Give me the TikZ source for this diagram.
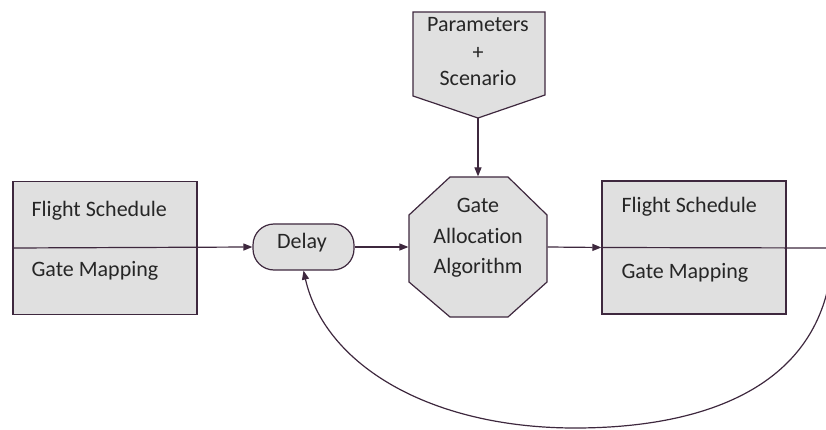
\documentclass[tikz,border=0pt]{standalone}
\usepackage{fontspec}
\setmainfont[Ligatures={NoCommon}]{Carlito}
\usetikzlibrary{arrows.meta}
\definecolor{ln}{RGB}{62,40,62}
\definecolor{fl}{RGB}{224,224,224}
\definecolor{tx}{RGB}{38,38,38}
\begin{document}
\begin{tikzpicture}[x=1pt,y=-1pt,line width=1.2pt,
  box/.style={draw=ln, fill=fl, minimum width=184pt, minimum height=133pt, inner sep=0pt},
  lbl/.style={font=\fontsize{22}{27}\selectfont, text=tx, inner sep=0pt},
  arr/.style={draw=ln, -{Triangle[length=9pt,width=7pt]}},
  conn/.style={draw=ln},
  anch/.style={inner sep=0pt}]
\useasboundingbox (0,0) rectangle (826,430);
\clip (0,0) rectangle (826,430);

% left data box
\node[box] (lb) at (105,248) {};
\node[lbl, anchor=base west] (lb1) at (31,217) {Flight Schedule};
\node[lbl, anchor=base west] (lb2) at (31,276) {Gate Mapping};

% delay
\node[draw=ln, fill=fl, rounded corners=21pt, minimum width=101pt, minimum height=46pt, inner sep=0pt] (dl) at (303.5,247) {};
\node[lbl, anchor=base] (dlt) at (302,248) {Delay};

% parameters shape
\path[conn, fill=fl] (413,12) -- (545,12) -- (545,95) -- (478,118) -- (413,96) -- cycle;
\coordinate (pt) at (478,118);
\node[lbl, anchor=base] (p1) at (478,32) {Parameters};
\node[lbl, anchor=base] (p2) at (478,60) {+};
\node[lbl, anchor=base] (p3) at (478,86) {Scenario};

% octagon
\path[conn, fill=fl] (450,177) -- (508,177) -- (547,215) -- (547,282) -- (508,317) -- (450,317) -- (409,282) -- (409,215) -- cycle;
\node[anch, minimum width=138pt, minimum height=140pt] (oc) at (478,247) {};
\node[lbl, anchor=base] (o1) at (478,212) {Gate};
\node[lbl, anchor=base] (o2) at (478,243) {Allocation};
\node[lbl, anchor=base] (o3) at (478,273) {Algorithm};

% right data box
\node[box] (rb) at (694,247.5) {};
\node[lbl, anchor=base west] (rb1) at (621,213) {Flight Schedule};
\node[lbl, anchor=base west] (rb2) at (621,278) {Gate Mapping};
\coordinate (re) at (830,248);
\coordinate (cs) at (828,288);

% connectors
\draw[arr] (lb.west) -- (dl.west);
\draw[arr] (dl.east) -- (oc.west);
\draw[arr] (pt) -- (oc.north);
\draw[arr] (oc.east) -- (rb.west);
\draw[conn] (rb.west) -- (re);
\draw[arr] (cs) .. controls (805,390) and (700,428) .. (575,428)
  .. controls (430,428) and (325,365) .. (dl.south);
\end{tikzpicture}
\end{document}
